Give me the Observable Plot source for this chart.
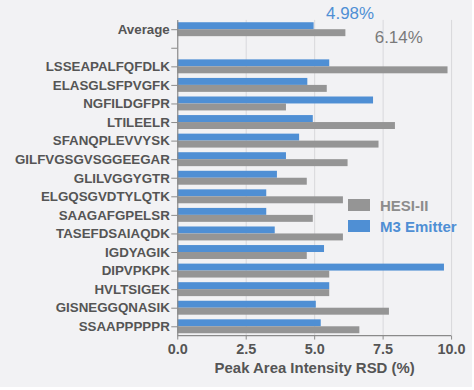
<!DOCTYPE html>
<html>
<head>
<meta charset="utf-8">
<script src="https://cdn.jsdelivr.net/npm/d3@7"></script>
<script src="https://cdn.jsdelivr.net/npm/@observablehq/plot@0.6"></script>
<style>
  html, body { margin: 0; padding: 0; background: #ffffff; }
  #wrap { position: relative; width: 472px; height: 387px; background: #f2f2f4; overflow: visible; font-family: "Liberation Sans", Arial, sans-serif; }
  #chart { position: absolute; left: 0; top: 0; }
  #legend { position: absolute; left: 348px; top: 195px; font-weight: bold; font-size: 15px; }
  .li { display: flex; align-items: center; height: 20px; margin-bottom: 1px; }
  .sw { width: 22px; height: 12px; margin-right: 10px; }
</style>
</head>
<body>
<div id="wrap"><div id="chart"></div>
  <div id="legend">
    <div class="li"><div class="sw" style="background:#959595"></div><span style="color:#8c8c8c">HESI-II</span></div>
    <div class="li"><div class="sw" style="background:#4f8fd4"></div><span style="color:#4f8fd4">M3 Emitter</span></div>
  </div>
</div>
<script>
const categories = ["Average", " ", "LSSEAPALFQFDLK", "ELASGLSFPVGFK", "NGFILDGFPR", "LTILEELR",
  "SFANQPLEVVYSK", "GILFVGSGVSGGEEGAR", "GLILVGGYGTR", "ELGQSGVDTYLQTK", "SAAGAFGPELSR",
  "TASEFDSAIAQDK", "IGDYAGIK", "DIPVPKPK", "HVLTSIGEK", "GISNEGGQNASIK", "SSAAPPPPPR"];
const m3Values   = [4.98, null, 5.55, 4.75, 7.15, 4.95, 4.45, 3.97, 3.64, 3.25, 3.25, 3.56, 5.36, 9.74, 5.55, 5.06, 5.24];
const hesiValues = [6.14, null, 9.87, 5.46, 3.97, 7.95, 7.35, 6.22, 4.73, 6.05, 4.95, 6.05, 4.73, 5.55, 5.55, 7.73, 6.65];
const xTicks = [0, 2.5, 5, 7.5, 10];
const annotations = [
  {cat: "Average", value: 4.98, label: "4.98%", series: "M3 Emitter"},
  {cat: "Average", value: 6.14, label: "6.14%", series: "HESI-II"}
];

const BLUE = "#4f8fd4", GRAY = "#959595";
const rows = categories.map((c, i) => ({cat: c, m3: m3Values[i], hesi: hesiValues[i]}));
const m3Rows = rows.filter(d => d.m3 != null);
const hesiRows = rows.filter(d => d.hesi != null);

const chart = Plot.plot({
  width: 474,
  height: 390,
  marginLeft: 178,
  marginRight: 21,
  marginTop: 20,
  marginBottom: 53,
  style: {background: "transparent", fontFamily: "'Liberation Sans', Arial, sans-serif"},
  x: {domain: [0, 10]},
  y: {domain: categories, paddingInner: 0.25, paddingOuter: 0.125, round: false},
  marks: [
    Plot.gridX(xTicks.slice(1), {stroke: "#d8d8dc", strokeOpacity: 1}),
    Plot.barX(m3Rows, {x: "m3", y: "cat", fill: BLUE, insetBottom: 7}),
    Plot.barX(hesiRows, {x: "hesi", y: "cat", fill: GRAY, insetTop: 7}),
    Plot.ruleX([0], {stroke: "#8a8a8a", strokeWidth: 1.2}),
    Plot.axisY({tickSize: 6, tickPadding: 2, stroke: "#8a8a8a", fill: "#555", fontSize: 13.4, fontWeight: "bold", label: null}),
    Plot.axisX({ticks: xTicks, tickFormat: d3.format(".1f"), tickSize: 4, tickPadding: 4, stroke: "#8a8a8a", fill: "#555", fontSize: 14.5, fontWeight: "bold", label: null}),
    Plot.text(["Peak Area Intensity RSD (%)"], {frameAnchor: "bottom", lineAnchor: "middle", dy: 32, fill: "#555", fontSize: 15, fontWeight: "bold"}),
    Plot.text(annotations.filter(a => a.series === "M3 Emitter"), {x: "value", y: "cat", text: "label", textAnchor: "start", dx: 12, dy: -16, fill: BLUE, fontSize: 17}),
    Plot.text(annotations.filter(a => a.series === "HESI-II"), {x: "value", y: "cat", text: "label", textAnchor: "start", dx: 29, dy: 8, fill: "#7a7a7a", fontSize: 17})
  ]
});

// bottom axis line drawn from the plot's own scales
const xs = chart.scale("x"), ys = chart.scale("y");
d3.select(chart).append("line")
  .attr("x1", xs.range[0]).attr("x2", xs.range[1])
  .attr("y1", ys.range[1]).attr("y2", ys.range[1])
  .attr("stroke", "#8a8a8a").attr("stroke-width", 1.2);

document.getElementById("chart").appendChild(chart);
</script>
</body>
</html>
